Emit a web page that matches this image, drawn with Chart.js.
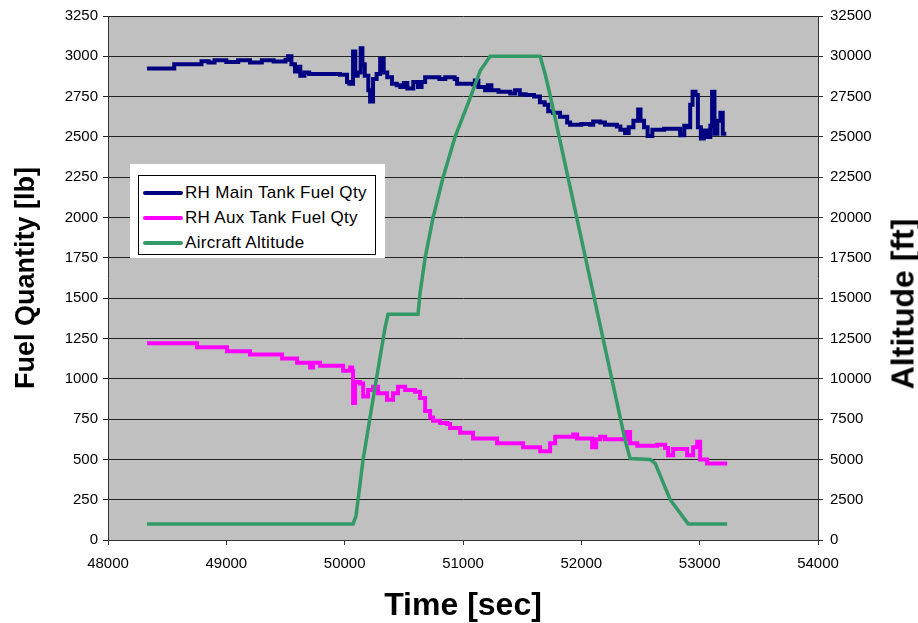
<!DOCTYPE html>
<html>
<head>
<meta charset="utf-8">
<script src="https://cdn.jsdelivr.net/npm/chart.js@4.4.1/dist/chart.umd.min.js"></script>
<style>
  body { margin: 0; background: #fff; font-family: "Liberation Sans", Arial, sans-serif; }
  #wrap { position: relative; width: 918px; height: 623px; }
  #legendBox { position: absolute; left: 130px; top: 164px; width: 255px; height: 94px; background: #fff; }
  #legend { position: absolute; left: 8px; top: 11px; width: 238px; height: 80px; border: 1px solid #000; box-sizing: border-box; padding-top: 4px; }
  .item { height: 25px; display: flex; align-items: center; font-size: 17px; letter-spacing: 0.3px; color: #000; }
  .item span.ln { display: inline-block; width: 40px; height: 4px; margin: 0 2px 0 4px; border-radius: 2px; }
  #titleRight { position: absolute; left: 903px; top: 304px; transform: translate(-50%, -50%) rotate(-90deg);
    font-weight: bold; font-size: 32px; white-space: nowrap; color: #000; }
</style>
</head>
<body>
<div id="wrap">
  <canvas id="grafico" width="918" height="623"></canvas>
  <div id="legendBox"><div id="legend"></div></div>
  <div id="titleRight">Altitude [ft]</div>
</div>
<script>
// dados (tempo em s)
const mainTime = [48330,48540,48560,48760,48790,48850,48900,49000,49100,49200,49300,49400,49500,49522,49550,49580,49600,49625,49660,49700,49960,50020,50040,50071,50090,50110,50135,50150,50170,50200,50215,50240,50270,50300,50330,50360,50400,50440,50470,50500,50530,50580,50620,50650,50680,50800,50850,50930,50950,51085,51100,51130,51187,51210,51240,51300,51400,51440,51480,51530,51600,51650,51690,51720,51760,51820,51880,51905,52000,52074,52100,52160,52200,52300,52330,52370,52400,52440,52480,52500,52530,52560,52600,52700,52810,52835,52870,52900,52920,52940,52965,52985,53010,53035,53060,53090,53105,53125,53150,53175,53195,53225];
const mainQty = [2925,2925,2950,2950,2970,2962,2975,2965,2975,2962,2975,2968,2978,3000,2950,2905,2935,2880,2900,2890,2885,2840,2830,3030,2880,2900,3050,2950,2880,2790,2720,2860,2890,2985,2900,2870,2830,2820,2810,2835,2800,2840,2810,2840,2870,2860,2870,2860,2830,2825,2850,2810,2790,2820,2790,2780,2770,2790,2765,2760,2750,2715,2700,2660,2650,2625,2590,2575,2580,2575,2595,2590,2575,2565,2545,2525,2560,2600,2670,2600,2560,2505,2545,2550,2550,2510,2570,2560,2700,2780,2760,2560,2490,2540,2500,2570,2780,2520,2600,2650,2520,2520];

const auxTime = [48330,48735,48752,48989,49006,49183,49200,49454,49471,49581,49598,49691,49708,49733,49792,49961,49987,50046,50063,50071,50088,50130,50156,50198,50240,50282,50358,50409,50451,50511,50595,50637,50680,50722,50747,50806,50866,50891,50950,50976,51077,51085,51254,51288,51483,51508,51626,51652,51694,51736,51779,51931,51965,52074,52091,52125,52159,52201,52353,52379,52412,52472,52641,52708,52733,52776,52861,52894,52945,52979,53004,53063,53232];
const auxQty = [1220,1220,1195,1195,1170,1170,1150,1150,1125,1125,1100,1100,1070,1100,1080,1080,1050,1070,1050,850,980,970,890,930,950,910,870,910,950,930,920,880,800,760,740,725,720,695,695,665,665,630,630,600,600,575,575,550,550,600,640,655,630,630,575,625,640,625,625,670,600,585,590,570,525,565,565,525,575,610,500,475,475];

const altTime = [48330,50071,50096,50156,50257,50342,50367,50620,50637,50680,50747,50832,50933,51060,51145,51229,51652,51694,51736,52370,52412,52581,52624,52751,52903,53232];
const altFt = [1000,1000,1500,5000,9500,13200,14000,14000,15300,17500,20000,22500,25000,27400,29100,30000,30000,28900,27600,6200,5050,5000,4750,2500,1000,1000];

const nomes = ['RH Main Tank Fuel Qty', 'RH Aux Tank Fuel Qty', 'Aircraft Altitude'];
const cores = ['#000080', '#ff00ff', '#339966'];

function pares(xs, ys) {
    return xs.map((t, i) => ({ x: t, y: ys[i] }));
}

const fonte = '"Liberation Sans", Arial, sans-serif';

// pinta o fundo cinza da área do gráfico
const fundoCinza = {
    id: 'fundoCinza',
    beforeDraw(chart) {
        const a = chart.chartArea;
        const ctx = chart.ctx;
        ctx.save();
        ctx.fillStyle = '#c0c0c0';
        ctx.fillRect(a.left, a.top, a.right - a.left, a.bottom - a.top);
        ctx.restore();
    }
};

const grafico = new Chart(document.getElementById('grafico').getContext('2d'), {
    type: 'line',
    data: {
        datasets: [
            { label: nomes[0], data: pares(mainTime, mainQty), borderColor: cores[0], yAxisID: 'y', order: 1, stepped: true, borderWidth: 4 },
            { label: nomes[1], data: pares(auxTime, auxQty), borderColor: cores[1], yAxisID: 'y', order: 2, stepped: true, borderWidth: 4 },
            { label: nomes[2], data: pares(altTime, altFt), borderColor: cores[2], yAxisID: 'y1', order: 0, borderWidth: 3.5 },
        ],
    },
    options: {
        responsive: false,
        animation: false,
        layout: { padding: { top: 15, left: 0, right: 0, bottom: 0 } },
        elements: {
            point: { radius: 0 },
            line: { tension: 0, borderJoinStyle: 'miter' },
        },
        plugins: { legend: { display: false }, tooltip: { enabled: false } },
        scales: {
            x: {
                type: 'linear',
                min: 48000,
                max: 54000,
                ticks: { stepSize: 1000, color: '#000', font: { family: fonte, size: 15 }, padding: 10, callback: v => String(v) },
                grid: { drawOnChartArea: false, drawTicks: true, tickLength: 5, color: '#333' },
                border: { color: '#333', width: 1 },
                title: { display: true, text: 'Time [sec]', color: '#000', font: { family: fonte, size: 32, weight: 'bold' }, padding: { top: 0, bottom: -2 } },
                afterFit(s) { s.height = 83; },
            },
            y: {
                position: 'left',
                min: 0,
                max: 3250,
                ticks: { stepSize: 250, color: '#000', font: { family: fonte, size: 15 }, padding: 5, callback: v => String(v) },
                grid: { color: '#222', lineWidth: 1, tickLength: 5 },
                border: { color: '#333', width: 1 },
                title: { display: true, text: 'Fuel Quantity [lb]', color: '#000', font: { family: fonte, size: 27, weight: 'bold' }, padding: { top: 10, bottom: 0 } },
                afterFit(s) { s.width = 108; },
            },
            y1: {
                position: 'right',
                min: 0,
                max: 32500,
                ticks: { stepSize: 2500, color: '#000', font: { family: fonte, size: 15 }, padding: 7, callback: v => String(v) },
                grid: { drawOnChartArea: false, tickLength: 5, color: '#333' },
                border: { color: '#333', width: 1 },
                afterFit(s) { s.width = 100; },
            },
        },
    },
    plugins: [fundoCinza],
});

// legenda em HTML, dentro da caixa branca
const legenda = document.getElementById('legend');
grafico.data.datasets.forEach(ds => {
    const div = document.createElement('div');
    div.className = 'item';
    div.innerHTML = `<span class="ln" style="background:${ds.borderColor}"></span>${ds.label}`;
    legenda.appendChild(div);
});
</script>
</body>
</html>
